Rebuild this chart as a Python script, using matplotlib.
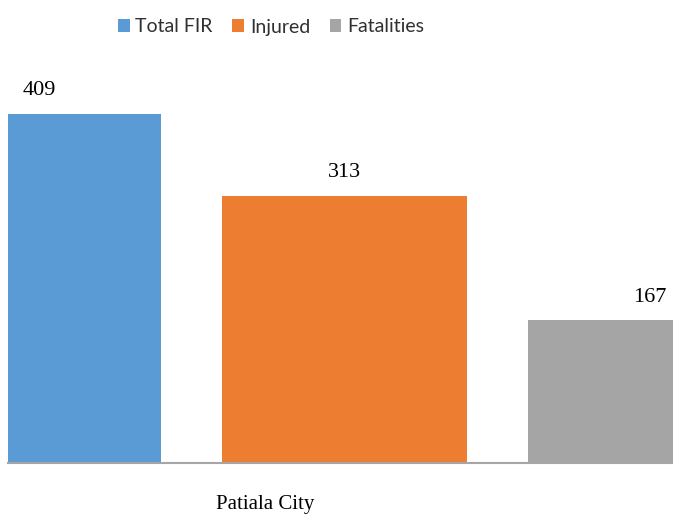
import matplotlib.pyplot as plt
import numpy as np

categories = ["Total FIR", "Injured", "Fatalities"]
values = [409, 313, 167]
colors = ["#5B9BD5", "#ED7D31", "#A5A5A5"]
group_label = "Patiala City"

W, H = 673, 515
fig = plt.figure(figsize=(W / 100, H / 100), dpi=100)

# plot area in pixels: baseline at y=463, left edge at x=8 (the image is cropped)
px_per_unit = (463 - 114) / 409
ymax = 500
ax_h = ymax * px_per_unit
ax = fig.add_axes([8 / W, (H - 463) / H, 1 - 8 / W, ax_h / H])

x = np.arange(len(categories))
bars = ax.bar(x, values, width=0.8, color=colors, label=categories, clip_on=True)
ax.set_xlim(-0.1015, 2.075)
ax.set_ylim(0, ymax)

for xi, v in zip(x, values):
    ax.annotate(str(v), (xi, v), xytext=(0, 10), textcoords="offset points",
                ha="center", va="bottom", fontsize=16, family="Liberation Serif",
                color="black", annotation_clip=False)

for s in ["top", "left", "right"]:
    ax.spines[s].set_visible(False)
ax.spines["bottom"].set_color("#A6A6A6")
ax.spines["bottom"].set_linewidth(1.5)
ax.set_xticks([])
ax.set_yticks([])

fig.text(265 / W, 1 - 505 / H, group_label, ha="center", va="center",
         fontsize=15, family="Liberation Serif")

fig.legend(handles=bars, labels=categories, loc="center",
           bbox_to_anchor=(271 / W, 1 - 27 / H), ncol=3, frameon=False,
           prop={"family": "Lato", "size": 14}, handlelength=0.6, handleheight=0.6,
           handletextpad=0.3, columnspacing=1.0, labelcolor="#303030")

fig.savefig("out.png", dpi=100)
